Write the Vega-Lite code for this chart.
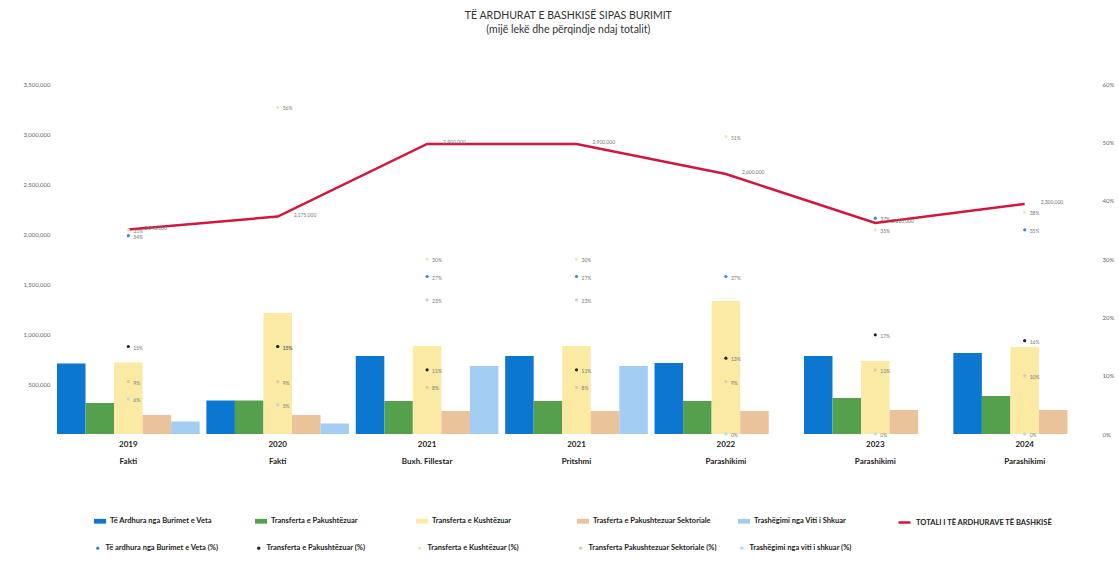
{
  "$schema": "https://vega.github.io/schema/vega-lite/v6.json",
  "autosize": {"type": "none"},
  "width": 1045,
  "height": 350,
  "padding": {"left": 54, "top": 84, "right": 20, "bottom": 127},
  "background": "white",
  "config": {"view": {"stroke": null}, "font": "Lato"},
  "title": {
    "text": "TË ARDHURAT E BASHKISË SIPAS BURIMIT",
    "subtitle": "(mijë lekë dhe përqindje ndaj totalit)",
    "anchor": "middle",
    "frame": "bounds",
    "font": "Lato",
    "fontSize": 10.5,
    "fontWeight": "normal",
    "color": "#333333",
    "subtitleFont": "Lato",
    "subtitleFontSize": 10.5,
    "subtitleColor": "#333333",
    "subtitlePadding": 3,
    "offset": 46
  },
  "datasets": {
    "bars": [
      {"cat": "2019|Fakti", "series": "Të Ardhura nga Burimet e Veta", "value": 705000},
      {"cat": "2019|Fakti", "series": "Transferta e Pakushtëzuar", "value": 310000},
      {"cat": "2019|Fakti", "series": "Transferta e Kushtëzuar", "value": 715000},
      {"cat": "2019|Fakti", "series": "Trasferta e Pakushtezuar Sektoriale", "value": 190000},
      {"cat": "2019|Fakti", "series": "Trashëgimi nga Viti i Shkuar", "value": 125000},
      {"cat": "2020|Fakti", "series": "Të Ardhura nga Burimet e Veta", "value": 335000},
      {"cat": "2020|Fakti", "series": "Transferta e Pakushtëzuar", "value": 335000},
      {"cat": "2020|Fakti", "series": "Transferta e Kushtëzuar", "value": 1210000},
      {"cat": "2020|Fakti", "series": "Trasferta e Pakushtezuar Sektoriale", "value": 190000},
      {"cat": "2020|Fakti", "series": "Trashëgimi nga Viti i Shkuar", "value": 105000},
      {"cat": "2021|Buxh. Fillestar", "series": "Të Ardhura nga Burimet e Veta", "value": 780000},
      {"cat": "2021|Buxh. Fillestar", "series": "Transferta e Pakushtëzuar", "value": 330000},
      {"cat": "2021|Buxh. Fillestar", "series": "Transferta e Kushtëzuar", "value": 880000},
      {"cat": "2021|Buxh. Fillestar", "series": "Trasferta e Pakushtezuar Sektoriale", "value": 230000},
      {"cat": "2021|Buxh. Fillestar", "series": "Trashëgimi nga Viti i Shkuar", "value": 680000},
      {"cat": "2021|Pritshmi", "series": "Të Ardhura nga Burimet e Veta", "value": 780000},
      {"cat": "2021|Pritshmi", "series": "Transferta e Pakushtëzuar", "value": 330000},
      {"cat": "2021|Pritshmi", "series": "Transferta e Kushtëzuar", "value": 880000},
      {"cat": "2021|Pritshmi", "series": "Trasferta e Pakushtezuar Sektoriale", "value": 230000},
      {"cat": "2021|Pritshmi", "series": "Trashëgimi nga Viti i Shkuar", "value": 680000},
      {"cat": "2022|Parashikimi", "series": "Të Ardhura nga Burimet e Veta", "value": 710000},
      {"cat": "2022|Parashikimi", "series": "Transferta e Pakushtëzuar", "value": 330000},
      {"cat": "2022|Parashikimi", "series": "Transferta e Kushtëzuar", "value": 1330000},
      {"cat": "2022|Parashikimi", "series": "Trasferta e Pakushtezuar Sektoriale", "value": 230000},
      {"cat": "2022|Parashikimi", "series": "Trashëgimi nga Viti i Shkuar", "value": 0},
      {"cat": "2023|Parashikimi", "series": "Të Ardhura nga Burimet e Veta", "value": 780000},
      {"cat": "2023|Parashikimi", "series": "Transferta e Pakushtëzuar", "value": 360000},
      {"cat": "2023|Parashikimi", "series": "Transferta e Kushtëzuar", "value": 730000},
      {"cat": "2023|Parashikimi", "series": "Trasferta e Pakushtezuar Sektoriale", "value": 240000},
      {"cat": "2023|Parashikimi", "series": "Trashëgimi nga Viti i Shkuar", "value": 0},
      {"cat": "2024|Parashikimi", "series": "Të Ardhura nga Burimet e Veta", "value": 810000},
      {"cat": "2024|Parashikimi", "series": "Transferta e Pakushtëzuar", "value": 380000},
      {"cat": "2024|Parashikimi", "series": "Transferta e Kushtëzuar", "value": 870000},
      {"cat": "2024|Parashikimi", "series": "Trasferta e Pakushtezuar Sektoriale", "value": 240000},
      {"cat": "2024|Parashikimi", "series": "Trashëgimi nga Viti i Shkuar", "value": 0}
    ],
    "totals": [
      {"cat": "2019|Fakti", "series": "TOTALI I TË ARDHURAVE TË BASHKISË", "value": 2045000},
      {"cat": "2020|Fakti", "series": "TOTALI I TË ARDHURAVE TË BASHKISË", "value": 2175000},
      {"cat": "2021|Buxh. Fillestar", "series": "TOTALI I TË ARDHURAVE TË BASHKISË", "value": 2900000},
      {"cat": "2021|Pritshmi", "series": "TOTALI I TË ARDHURAVE TË BASHKISË", "value": 2900000},
      {"cat": "2022|Parashikimi", "series": "TOTALI I TË ARDHURAVE TË BASHKISË", "value": 2600000},
      {"cat": "2023|Parashikimi", "series": "TOTALI I TË ARDHURAVE TË BASHKISË", "value": 2110000},
      {"cat": "2024|Parashikimi", "series": "TOTALI I TË ARDHURAVE TË BASHKISË", "value": 2300000}
    ],
    "pcts": [
      {"cat": "2019|Fakti", "pseries": "Të ardhura nga Burimet e Veta (%)", "pct": 0.34},
      {"cat": "2019|Fakti", "pseries": "Transferta e Pakushtëzuar (%)", "pct": 0.15},
      {"cat": "2019|Fakti", "pseries": "Transferta e Kushtëzuar (%)", "pct": 0.35},
      {"cat": "2019|Fakti", "pseries": "Transferta Pakushtezuar Sektoriale (%)", "pct": 0.09},
      {"cat": "2019|Fakti", "pseries": "Trashëgimi nga viti i shkuar (%)", "pct": 0.06},
      {"cat": "2020|Fakti", "pseries": "Të ardhura nga Burimet e Veta (%)", "pct": 0.15},
      {"cat": "2020|Fakti", "pseries": "Transferta e Pakushtëzuar (%)", "pct": 0.15},
      {"cat": "2020|Fakti", "pseries": "Transferta e Kushtëzuar (%)", "pct": 0.56},
      {"cat": "2020|Fakti", "pseries": "Transferta Pakushtezuar Sektoriale (%)", "pct": 0.09},
      {"cat": "2020|Fakti", "pseries": "Trashëgimi nga viti i shkuar (%)", "pct": 0.05},
      {"cat": "2021|Buxh. Fillestar", "pseries": "Të ardhura nga Burimet e Veta (%)", "pct": 0.27},
      {"cat": "2021|Buxh. Fillestar", "pseries": "Transferta e Pakushtëzuar (%)", "pct": 0.11},
      {"cat": "2021|Buxh. Fillestar", "pseries": "Transferta e Kushtëzuar (%)", "pct": 0.30},
      {"cat": "2021|Buxh. Fillestar", "pseries": "Transferta Pakushtezuar Sektoriale (%)", "pct": 0.08},
      {"cat": "2021|Buxh. Fillestar", "pseries": "Trashëgimi nga viti i shkuar (%)", "pct": 0.23},
      {"cat": "2021|Pritshmi", "pseries": "Të ardhura nga Burimet e Veta (%)", "pct": 0.27},
      {"cat": "2021|Pritshmi", "pseries": "Transferta e Pakushtëzuar (%)", "pct": 0.11},
      {"cat": "2021|Pritshmi", "pseries": "Transferta e Kushtëzuar (%)", "pct": 0.30},
      {"cat": "2021|Pritshmi", "pseries": "Transferta Pakushtezuar Sektoriale (%)", "pct": 0.08},
      {"cat": "2021|Pritshmi", "pseries": "Trashëgimi nga viti i shkuar (%)", "pct": 0.23},
      {"cat": "2022|Parashikimi", "pseries": "Të ardhura nga Burimet e Veta (%)", "pct": 0.27},
      {"cat": "2022|Parashikimi", "pseries": "Transferta e Pakushtëzuar (%)", "pct": 0.13},
      {"cat": "2022|Parashikimi", "pseries": "Transferta e Kushtëzuar (%)", "pct": 0.51},
      {"cat": "2022|Parashikimi", "pseries": "Transferta Pakushtezuar Sektoriale (%)", "pct": 0.09},
      {"cat": "2022|Parashikimi", "pseries": "Trashëgimi nga viti i shkuar (%)", "pct": 0},
      {"cat": "2023|Parashikimi", "pseries": "Të ardhura nga Burimet e Veta (%)", "pct": 0.37},
      {"cat": "2023|Parashikimi", "pseries": "Transferta e Pakushtëzuar (%)", "pct": 0.17},
      {"cat": "2023|Parashikimi", "pseries": "Transferta e Kushtëzuar (%)", "pct": 0.35},
      {"cat": "2023|Parashikimi", "pseries": "Transferta Pakushtezuar Sektoriale (%)", "pct": 0.11},
      {"cat": "2023|Parashikimi", "pseries": "Trashëgimi nga viti i shkuar (%)", "pct": 0},
      {"cat": "2024|Parashikimi", "pseries": "Të ardhura nga Burimet e Veta (%)", "pct": 0.35},
      {"cat": "2024|Parashikimi", "pseries": "Transferta e Pakushtëzuar (%)", "pct": 0.16},
      {"cat": "2024|Parashikimi", "pseries": "Transferta e Kushtëzuar (%)", "pct": 0.38},
      {"cat": "2024|Parashikimi", "pseries": "Transferta Pakushtezuar Sektoriale (%)", "pct": 0.10},
      {"cat": "2024|Parashikimi", "pseries": "Trashëgimi nga viti i shkuar (%)", "pct": 0}
    ]
  },
  "encoding": {
    "x": {
      "field": "cat",
      "type": "nominal",
      "sort": null,
      "scale": {"paddingInner": 0.045, "paddingOuter": 0.02},
      "axis": {
        "title": null,
        "labelAngle": 0,
        "ticks": false,
        "domain": false,
        "labelExpr": "split(datum.label, '|')",
        "labelLineHeight": 17,
        "labelFont": "Lato",
        "labelFontSize": 8,
        "labelFontWeight": "bold",
        "labelColor": "#222222",
        "labelPadding": 6
      }
    }
  },
  "layer": [
    {
      "layer": [
        {
          "data": {"name": "bars"},
          "mark": {"type": "bar"},
          "encoding": {
            "xOffset": {
              "field": "series",
              "type": "nominal",
              "scale": {"domain": ["Të Ardhura nga Burimet e Veta", "Transferta e Pakushtëzuar", "Transferta e Kushtëzuar", "Trasferta e Pakushtezuar Sektoriale", "Trashëgimi nga Viti i Shkuar"], "paddingInner": 0, "paddingOuter": 0}
            },
            "y": {
              "field": "value",
              "type": "quantitative",
              "scale": {"domain": [0, 3500000], "nice": false},
              "axis": {
                "title": null,
                "values": [0, 500000, 1000000, 1500000, 2000000, 2500000, 3000000, 3500000],
                "labelExpr": "datum.value == 0 ? '' : format(datum.value, ',')",
                "grid": false,
                "ticks": false,
                "domain": false,
                "labelFont": "Lato",
                "labelFontSize": 6,
                "labelColor": "#666666",
                "labelPadding": 4
              }
            },
            "fill": {
              "field": "series",
              "type": "nominal",
              "scale": {
                "domain": ["Të Ardhura nga Burimet e Veta", "Transferta e Pakushtëzuar", "Transferta e Kushtëzuar", "Trasferta e Pakushtezuar Sektoriale", "Trashëgimi nga Viti i Shkuar"],
                "range": ["#0c77d0", "#55a04d", "#fbeaa4", "#ebc39b", "#a3cdf3"]
              },
              "legend": {
                "title": null,
                "orient": "none",
                "legendX": 40,
                "legendY": 431,
                "direction": "horizontal",
                "columns": 5,
                "gridAlign": "all",
                "columnPadding": 27,
                "labelFont": "Lato",
                "labelFontSize": 7.5,
                "labelFontWeight": "bold",
                "labelColor": "#222222",
                "labelOffset": 4,
                "labelLimit": 200,
                "symbolType": "M-1,-0.4H1V0.4H-1Z",
                "symbolSize": 144,
                "symbolStrokeWidth": 0
              }
            }
          }
        },
        {
          "data": {"name": "totals"},
          "mark": {"type": "line", "strokeWidth": 2.5},
          "encoding": {
            "y": {"field": "value", "type": "quantitative"},
            "stroke": {
              "field": "series",
              "type": "nominal",
              "scale": {"domain": ["TOTALI I TË ARDHURAVE TË BASHKISË"], "range": ["#d0173e"]},
              "legend": {
                "title": null,
                "orient": "none",
                "legendX": 843,
                "legendY": 431,
                "direction": "horizontal",
                "labelFont": "Lato",
                "labelFontSize": 7.5,
                "labelFontWeight": "bold",
                "labelColor": "#222222",
                "labelOffset": 4,
                "labelLimit": 250,
                "symbolType": "stroke",
                "symbolSize": 144,
                "symbolStrokeWidth": 2.5
              }
            }
          }
        },
        {
          "data": {"name": "totals"},
          "mark": {"type": "text", "align": "left", "dx": 16, "dy": -2, "fontSize": 5, "font": "Lato", "color": "#777777"},
          "encoding": {
            "y": {"field": "value", "type": "quantitative"},
            "text": {"field": "value", "type": "quantitative", "format": ","}
          }
        }
      ]
    },
    {
      "layer": [
        {
          "data": {"name": "pcts"},
          "mark": {"type": "point", "filled": true, "size": 10, "opacity": 1},
          "encoding": {
            "y": {
              "field": "pct",
              "type": "quantitative",
              "scale": {"domain": [0, 0.6], "nice": false},
              "axis": {
                "orient": "right",
                "title": null,
                "values": [0, 0.1, 0.2, 0.3, 0.4, 0.5, 0.6],
                "format": ".0%",
                "grid": false,
                "ticks": false,
                "domain": false,
                "labelFont": "Lato",
                "labelFontSize": 6,
                "labelColor": "#666666",
                "labelPadding": 3
              }
            },
            "color": {
              "field": "pseries",
              "type": "nominal",
              "scale": {
                "domain": ["Të ardhura nga Burimet e Veta (%)", "Transferta e Pakushtëzuar (%)", "Transferta e Kushtëzuar (%)", "Transferta Pakushtezuar Sektoriale (%)", "Trashëgimi nga viti i shkuar (%)"],
                "range": ["#2f8ae0", "#222222", "#f3e6b0", "#e6c7a3", "#b5d6f2"]
              },
              "legend": {
                "title": null,
                "orient": "none",
                "legendX": 40,
                "legendY": 460,
                "direction": "horizontal",
                "columns": 5,
                "gridAlign": "all",
                "columnPadding": 21,
                "labelFont": "Lato",
                "labelFontSize": 7.5,
                "labelFontWeight": "bold",
                "labelColor": "#222222",
                "labelOffset": 4,
                "labelLimit": 200,
                "symbolType": "circle",
                "symbolSize": 12,
                "symbolStrokeWidth": 0
              }
            }
          }
        },
        {
          "data": {"name": "pcts"},
          "mark": {"type": "text", "align": "left", "dx": 5, "dy": 1, "fontSize": 5, "font": "Lato", "color": "#777777"},
          "encoding": {
            "y": {"field": "pct", "type": "quantitative"},
            "text": {"field": "pct", "type": "quantitative", "format": ".0%"}
          }
        }
      ]
    }
  ],
  "resolve": {"scale": {"y": "independent"}}
}
